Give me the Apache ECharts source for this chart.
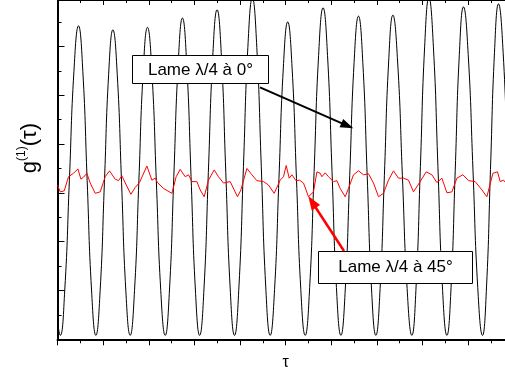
<!DOCTYPE html>
<html><head><meta charset="utf-8">
<script src="https://cdn.jsdelivr.net/npm/echarts@6/dist/echarts.min.js"></script>
<style>html,body{margin:0;padding:0;background:#fff;}#c{width:505px;height:367px;}</style>
</head><body><div id="c"></div>
<script>
// tau axis (arbitrary units, 10 major divisions)
const xTicks = [0,1,2,3,4,5,6,7,8,9,10];
// Black curve: quarter-wave plate at 0 deg
const blackX = [0,0.059,0.159,0.26,0.36,0.46,0.555,0.65,0.746,0.841,0.934,1.028,1.121,1.214,1.309,1.404,1.498,1.593,1.688,1.783,1.877,1.972,2.069,2.166,2.263,2.36,2.455,2.549,2.644,2.738,2.832,2.927,3.021,3.115,3.211,3.306,3.402,3.497,3.593,3.688,3.784,3.879,3.977,4.075,4.172,4.27,4.368,4.466,4.563,4.661,4.757,4.853,4.949,5.045,5.141,5.237,5.332,5.428,5.526,5.624,5.722,5.82,5.918,6.016,6.113,6.211,6.307,6.404,6.5,6.596,6.691,6.787,6.882,6.977,7.07,7.164,7.257,7.35,7.454,7.558,7.662,7.766,7.859,7.953,8.046,8.139,8.238,8.337,8.435,8.534,8.625,8.716,8.806,8.897,9.001,9.106,9.21,9.314,9.402,9.489,9.577,9.664,9.766,9.867,9.969,10.07];
const blackY = [0.4,0.13,1.06,3.30,5.54,6.47, 5.54,3.30,1.06,0.13, 1.04,3.26,5.48,6.39, 5.48,3.26,1.04,0.13, 1.05,3.29,5.52,6.44, 5.52,3.29,1.05,0.13, 1.08,3.38,5.68,6.63, 5.68,3.38,1.08,0.13, 1.10,3.47,5.83,6.80, 5.83,3.47,1.10,0.13, 1.14,3.59,6.03,7.04, 6.03,3.59,1.14,0.13, 1.07,3.34,5.61,6.55, 5.61,3.34,1.07,0.13, 1.11,3.49,5.86,6.84, 5.86,3.49,1.11,0.13, 1.08,3.40,5.72,6.67, 5.72,3.40,1.08,0.13, 1.09,3.41,5.73,6.69, 5.73,3.41,1.09,0.13, 1.14,3.59,6.04,7.05, 6.04,3.59,1.14,0.13, 1.11,3.50,5.88,6.86, 5.88,3.50,1.11,0.13, 1.12,3.53,5.93,6.92, 5.93,3.53,1.12,0.13];
// Red curve: quarter-wave plate at 45 deg
const redX = [0,0.059,0.147,0.241,0.351,0.447,0.513,0.570,0.644,0.717,0.826,0.936,1.045,1.140,1.264,1.337,1.411,1.506,1.609,1.703,1.797,1.959,2.069,2.141,2.192,2.323,2.507,2.601,2.689,2.799,2.871,2.945,3.055,3.127,3.215,3.309,3.434,3.528,3.638,3.785,3.872,3.945,4.019,4.151,4.260,4.370,4.515,4.624,4.749,4.881,4.953,5.012,5.078,5.137,5.225,5.303,5.391,5.501,5.610,5.685,5.757,5.794,5.867,5.939,6.049,6.123,6.195,6.305,6.377,6.487,6.596,6.706,6.816,6.925,7.035,7.144,7.254,7.363,7.473,7.583,7.692,7.802,7.948,8.080,8.205,8.314,8.424,8.534,8.643,8.753,8.884,9.007,9.154,9.301,9.410,9.542,9.643,9.702,9.774,9.811];
const redY = [3.21,3.07,3.09,3.38,3.45,3.54,3.33,3.37,3.45,3.25,3.04,3.07,3.38,3.50,3.33,3.30,3.40,3.21,3.02,3.16,3.26,3.60,3.31,3.35,3.26,3.14,3.04,3.38,3.53,3.38,3.42,3.28,3.28,3.11,2.97,3.31,3.52,3.38,3.25,3.28,3.11,2.97,3.11,3.55,3.42,3.30,3.28,3.21,3.04,3.31,3.38,3.61,3.35,3.42,3.30,3.31,3.25,2.97,3.07,3.48,3.45,3.38,3.46,3.38,3.28,3.30,3.14,2.97,3.14,3.42,3.50,3.42,3.44,3.25,2.97,3.04,3.31,3.50,3.35,3.35,3.31,3.07,3.28,3.48,3.42,3.26,3.35,3.05,3.07,3.35,3.42,3.30,3.28,3.11,2.97,3.45,3.48,3.28,3.31,3.27];
const label0 = 'Lame \u03bb/4 \u00e0 0\u00b0';
const label45 = 'Lame \u03bb/4 \u00e0 45\u00b0';

function zip(a, b) { const n = Math.min(a.length, b.length); const r = []; for (let i = 0; i < n; i++) r.push([a[i], b[i]]); return r; }

const chart = echarts.init(document.getElementById('c'), null, {renderer: 'canvas'});
const FONT = '"Liberation Sans", Arial, sans-serif';
const axisCommon = {
  type: 'value', axisLabel: {show: false}, splitLine: {show: false}
};
chart.setOption({
  animation: false,
  backgroundColor: '#fff',
  grid: {left: 57.5, top: 0, width: 456.3, height: 339.3, containLabel: false, outerBoundsMode: 'none'},
  xAxis: [
    Object.assign({}, axisCommon, {
      position: 'bottom', min: xTicks[0], max: xTicks[xTicks.length - 1], interval: 1,
      axisLine: {show: true, onZero: false, lineStyle: {color: '#000', width: 2}},
      axisTick: {show: true, inside: false, length: 6, lineStyle: {color: '#000', width: 1}},
      minorTick: {show: true, splitNumber: 2, length: 4, lineStyle: {color: '#000', width: 1}},
      name: '\u03c4', nameLocation: 'middle', nameGap: 15,
      nameTextStyle: {fontFamily: FONT, fontSize: 16, color: '#000'}
    }),
    Object.assign({}, axisCommon, {
      position: 'top', min: xTicks[0], max: xTicks[xTicks.length - 1], interval: 1,
      axisLine: {show: true, onZero: false, lineStyle: {color: '#000', width: 1}},
      axisTick: {show: true, inside: true, length: 5, lineStyle: {color: '#000', width: 1}},
      minorTick: {show: true, splitNumber: 2, length: 3, lineStyle: {color: '#000', width: 1}}
    })
  ],
  yAxis: [
    Object.assign({}, axisCommon, {
      position: 'left', min: 0.05, max: 7, interval: 1,
      axisLine: {show: true, onZero: false, lineStyle: {color: '#000', width: 2}},
      axisTick: {show: true, inside: true, length: 7, lineStyle: {color: '#000', width: 1}},
      minorTick: {show: true, splitNumber: 2, length: 4, lineStyle: {color: '#000', width: 1}}
    }),
    Object.assign({}, axisCommon, {
      position: 'right', min: 0.05, max: 7, interval: 1,
      axisLine: {show: true, onZero: false, lineStyle: {color: '#000', width: 2}},
      axisTick: {show: false}
    })
  ],
  series: [
    {type: 'line', name: label0, data: zip(blackX, blackY), showSymbol: false, smooth: 0.5,
     lineStyle: {color: '#000', width: 1}, itemStyle: {color: '#000'}, z: 2},
    {type: 'line', name: label45, data: zip(redX, redY), showSymbol: false, smooth: false,
     lineStyle: {color: '#ff0000', width: 1}, itemStyle: {color: '#ff0000'}, z: 3}
  ],
  graphic: [
    // y axis title g^(1)(tau)
    {type: 'text', left: 16, top: 123, rotation: Math.PI / 2, z: 10,
     style: {text: '{g|g}{s|(1)}{g|(\u03c4)}', rich: {
       g: {fontFamily: FONT, fontSize: 22, fill: '#000', verticalAlign: 'bottom'},
       s: {fontFamily: FONT, fontSize: 12, fill: '#000', verticalAlign: 'top', padding: [0,0,13,0]}
     }}},
    // box 1
    {type: 'rect', shape: {x: 132.5, y: 55.5, width: 136, height: 28}, z: 20,
     style: {fill: '#fff', stroke: '#000', lineWidth: 1}},
    {type: 'text', x: 200.5, y: 70, z: 21,
     style: {text: label0, fontFamily: FONT, fontSize: 17, fill: '#000', align: 'center', verticalAlign: 'middle'}},
    // arrow 1
    {type: 'line', shape: {x1: 260, y1: 87.3, x2: 342, y2: 123.3}, z: 20,
     style: {stroke: '#000', lineWidth: 2}},
    {type: 'polygon', shape: {points: [[353.3,128.3],[339.6,127.2],[343.2,118.95]]}, z: 20,
     style: {fill: '#000'}},
    // box 2
    {type: 'rect', shape: {x: 318.5, y: 251.5, width: 154, height: 32}, z: 20,
     style: {fill: '#fff', stroke: '#000', lineWidth: 1}},
    {type: 'text', x: 395.5, y: 267, z: 21,
     style: {text: label45, fontFamily: FONT, fontSize: 17, fill: '#000', align: 'center', verticalAlign: 'middle'}},
    // arrow 2
    {type: 'line', shape: {x1: 344, y1: 251, x2: 315, y2: 206.5}, z: 19,
     style: {stroke: '#ff0000', lineWidth: 2.5}},
    {type: 'polygon', shape: {points: [[308.3,196],[320.1,205.0],[311.7,210.4]]}, z: 20,
     style: {fill: '#ff0000'}}
  ]
});
</script></body></html>
